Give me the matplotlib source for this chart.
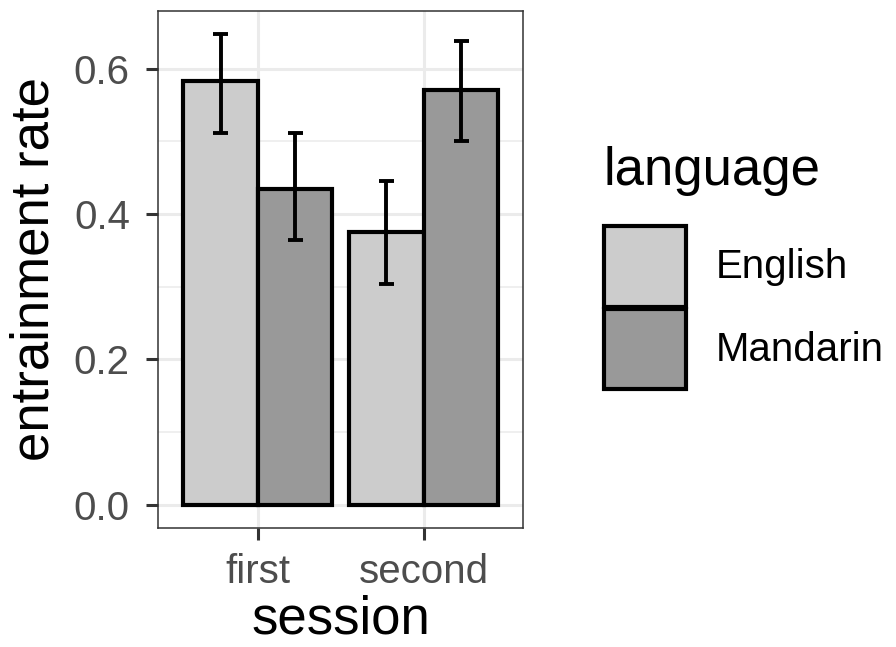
import matplotlib
matplotlib.use('Agg')
import numpy as np
import matplotlib.pyplot as plt
from matplotlib.patches import Patch
from matplotlib.ticker import MultipleLocator, FormatStrFormatter

plt.rcParams['font.family'] = ['Liberation Sans', 'DejaVu Sans']

# Данные: средний уровень и границы доверительных интервалов
sessions = ['first', 'second']
languages = ['English', 'Mandarin']
colors = ['#cccccc', '#999999']
rate_mean = {
    'English': [0.583, 0.376],
    'Mandarin': [0.435, 0.571],
}
rate_low = {
    'English': [0.511, 0.304],
    'Mandarin': [0.364, 0.500],
}
rate_high = {
    'English': [0.648, 0.446],
    'Mandarin': [0.512, 0.638],
}

fig = plt.figure(figsize=(8.96, 6.47), dpi=100)
ax = fig.add_axes([0.1767, 0.1835, 0.4073, 0.800])

x = np.arange(1, len(sessions) + 1)
bar_w = 0.45
cap = 0.045
for i, lang in enumerate(languages):
    pos = x + (i - 0.5) * bar_w
    mean = np.array(rate_mean[lang])
    low = np.array(rate_low[lang])
    high = np.array(rate_high[lang])
    ax.bar(pos, mean, width=bar_w, color=colors[i], edgecolor='black',
           linewidth=3, zorder=3)
    ax.vlines(pos, low, high, color='black', linewidth=2.8, zorder=4)
    ax.hlines(low, pos - cap, pos + cap, color='black', linewidth=2.8, zorder=4)
    ax.hlines(high, pos - cap, pos + cap, color='black', linewidth=2.8, zorder=4)

ax.set_xlim(0.4, 2.6)
ax.set_ylim(-0.0324, 0.680)
ax.set_xticks(x)
ax.set_xticklabels(sessions)
ax.yaxis.set_major_locator(MultipleLocator(0.2))
ax.yaxis.set_minor_locator(MultipleLocator(0.1))
ax.yaxis.set_major_formatter(FormatStrFormatter('%.1f'))

ax.grid(True, which='major', color='#ebebeb', linewidth=2.2, zorder=0)
ax.grid(True, which='minor', axis='y', color='#ebebeb', linewidth=1.1, zorder=0)
ax.tick_params(which='major', length=8.5, width=2.2, color='#333333',
               labelsize=29, labelcolor='#4d4d4d')
ax.tick_params(axis='y', pad=12)
ax.tick_params(axis='x', pad=9)
ax.tick_params(which='minor', length=0)
for s in ax.spines.values():
    s.set_color('#333333')
    s.set_linewidth(1.1)

ax.set_xlabel('session', fontsize=38, labelpad=2.5)
ax.set_ylabel('entrainment rate', fontsize=38, labelpad=10)

handles = [Patch(facecolor=c, edgecolor='black', linewidth=3) for c in colors]
leg = fig.legend(handles, languages, loc='upper left', bbox_to_anchor=(0.674, 0.775),
                 frameon=False, fontsize=29, title='language', title_fontsize=38,
                 handlelength=2.05, handleheight=2.7, labelspacing=0.05,
                 handletextpad=0.72, borderpad=0, borderaxespad=0)
leg._legend_box.align = 'left'
leg._legend_box.sep = 22

fig.savefig('out.png', dpi=100)
plt.close(fig)
